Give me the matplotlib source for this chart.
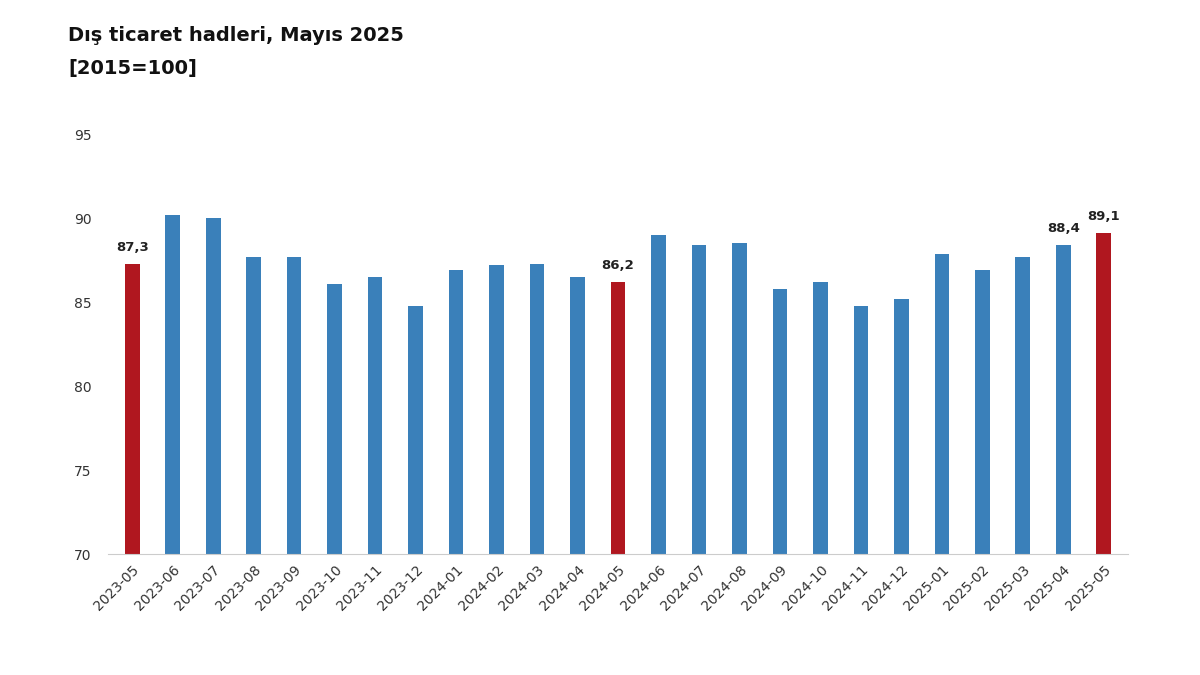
import matplotlib
matplotlib.use("Agg")
import matplotlib.pyplot as plt

categories = ["2023-05","2023-06","2023-07","2023-08","2023-09","2023-10","2023-11","2023-12",
              "2024-01","2024-02","2024-03","2024-04","2024-05","2024-06","2024-07","2024-08",
              "2024-09","2024-10","2024-11","2024-12","2025-01","2025-02","2025-03","2025-04","2025-05"]
values = [87.3,90.2,90.0,87.7,87.7,86.1,86.5,84.8,86.9,87.2,87.3,86.5,86.2,89.0,88.4,88.5,
          85.8,86.2,84.8,85.2,87.9,86.9,87.7,88.4,89.1]
highlight = {"2023-05","2024-05","2025-05"}
labeled = {"2023-05","2024-05","2025-04","2025-05"}

fig = plt.figure(figsize=(12, 6.75), dpi=100)
ax = fig.add_axes([0.09, 0.179, 0.85, 0.622])
x = range(len(categories))
colors = ["#B0171F" if c in highlight else "#3A80BA" for c in categories]
ax.bar(x, values, width=0.36, color=colors, zorder=2)
for i, (c, v) in enumerate(zip(categories, values)):
    if c in labeled:
        ax.text(i, v + 0.6, f"{v:.1f}".replace(".", ","), ha="center", va="bottom",
                fontsize=9.5, fontweight="bold", color="#222222")
ax.set_ylim(70, 95)
ax.set_yticks([70, 75, 80, 85, 90, 95])
ax.set_xlim(-0.6, len(categories) - 0.4)
ax.set_xticks(list(x))
ax.set_xticklabels(categories, rotation=45, ha="right", rotation_mode="anchor", fontsize=10, color="#333333")
ax.tick_params(axis="y", labelsize=10, colors="#333333", length=0, pad=12)
ax.tick_params(axis="x", length=0, pad=6)
for s in ["top", "right", "left"]:
    ax.spines[s].set_visible(False)
ax.spines["bottom"].set_color("#cccccc")
fig.text(0.057, 0.948, "Dış ticaret hadleri, Mayıs 2025", fontsize=14, fontweight="bold", color="#111111", va="center")
fig.text(0.057, 0.898, "[2015=100]", fontsize=14, fontweight="bold", color="#111111", va="center")
fig.savefig("out.png", dpi=100)
